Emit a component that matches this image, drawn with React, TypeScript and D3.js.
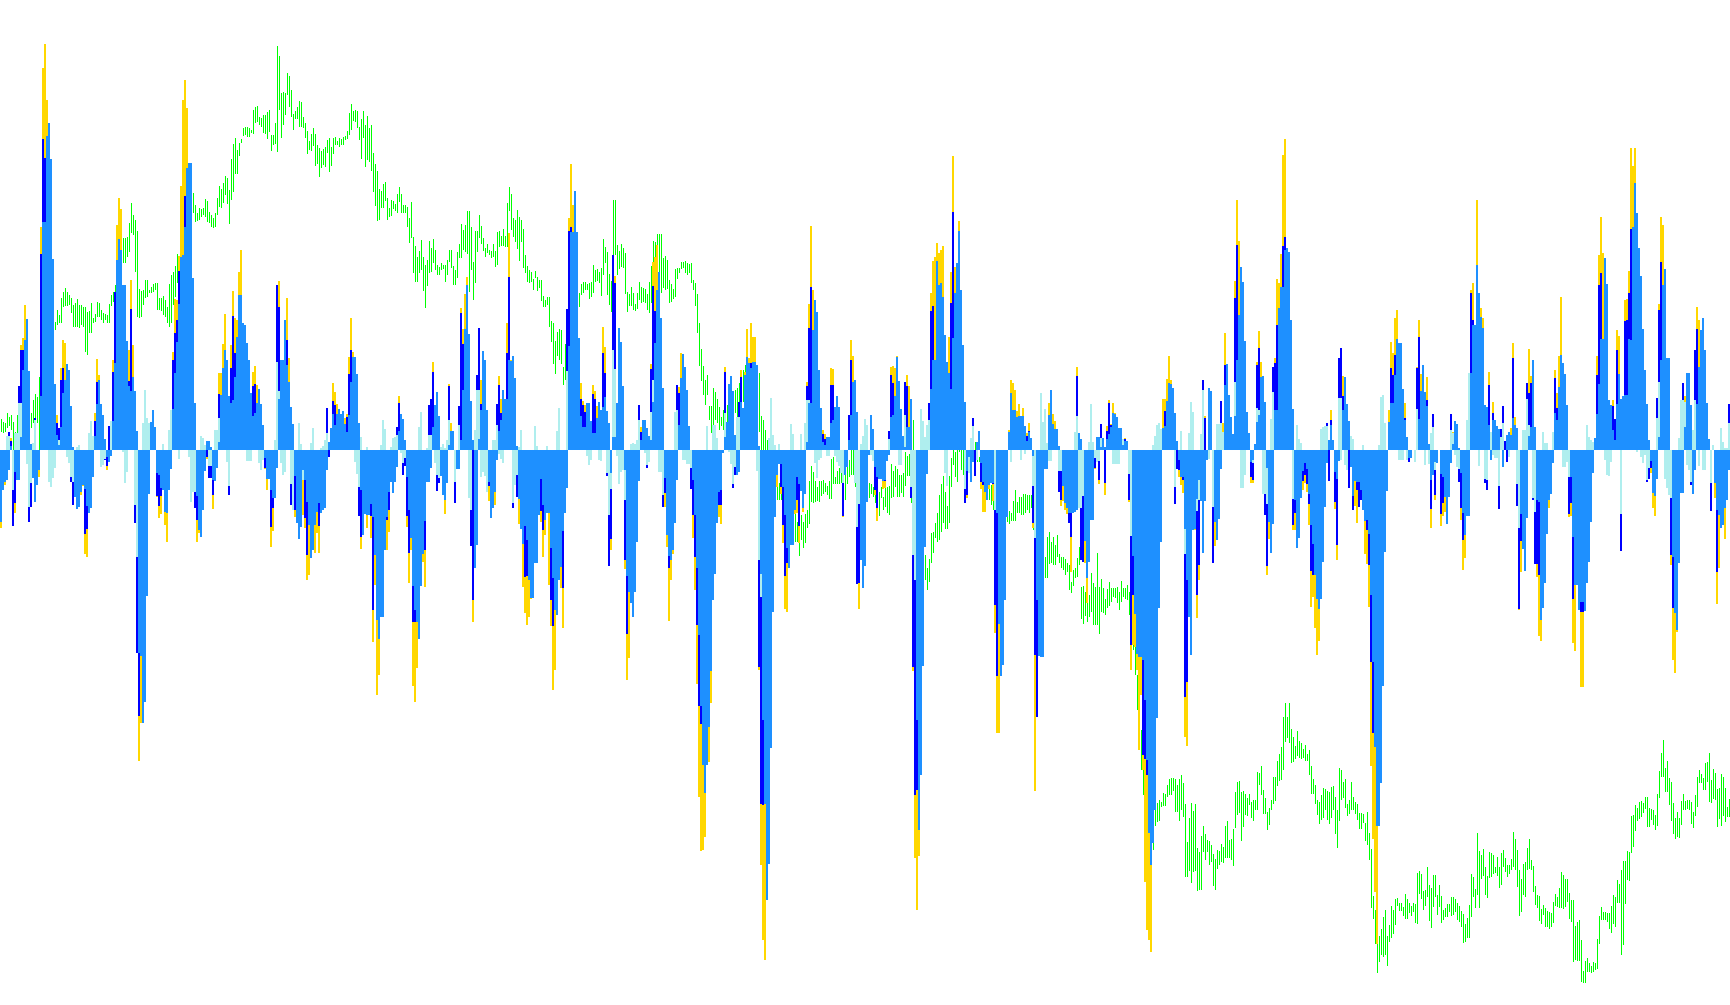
import React from "react";
import * as d3 from "d3";

const WIDTH = 1730;
const HEIGHT = 1005;
const COLUMN_COUNT = 865;

const dodgerValues = [
-72,-40,-32,-30,-20,4,0,-22,-30,-30,
13,80,110,131,79,6,-28,-52,-35,-20,
54,228,228,314,327,291,191,66,15,5,
23,57,70,86,80,44,3,-47,-59,-57,
-42,-35,-39,-56,-63,-58,-27,14,46,70,
46,35,11,-7,-12,-6,29,87,190,211,
200,165,165,109,64,59,73,59,19,-203,
-206,-273,-252,-146,-44,28,40,23,-23,-25,
-38,-40,-62,-63,-40,-19,41,77,108,146,
193,195,223,282,287,287,172,47,-46,-80,
-87,-60,-21,9,9,3,-30,-31,-18,8,
55,82,100,90,54,47,50,73,113,155,
155,127,125,107,90,57,34,37,47,61,
46,25,-8,-29,-29,-40,-48,-48,-18,51,
90,90,130,85,68,43,26,-26,-73,-89,
-77,-20,-30,-52,-75,-108,-100,-75,-62,-53,
-63,-60,-58,-20,8,22,36,25,36,41,
36,39,26,18,35,68,93,93,76,27,
-40,-85,-64,-65,-65,-54,-67,-105,-170,-189,
-167,-167,-100,-67,-42,-32,-43,-32,-17,19,
36,31,10,-27,-60,-88,-136,-160,-172,-189,
-136,-104,-71,-32,-32,-18,23,45,58,34,
-26,-45,-50,-33,5,19,19,0,-19,-19,
10,60,121,165,116,49,10,-118,-95,11,
40,99,90,40,-32,-68,-58,-42,-10,19,
30,60,51,51,90,89,94,72,4,-49,
-79,-94,-76,-90,-130,-148,-148,-113,-113,-65,
-29,-55,-70,-63,-63,-98,-128,-160,-165,-130,
-117,-81,-63,-38,104,218,218,259,218,112,
34,23,23,47,47,29,17,17,32,48,
40,43,53,39,27,-23,13,13,47,122,
108,64,-20,-126,-142,-153,-167,-142,-92,-31,
10,30,30,22,14,10,48,107,160,178,
132,62,-28,-85,-106,-110,-100,-73,-30,25,
72,96,83,60,24,0,-30,-65,-118,-185,
-256,-315,-343,-315,-277,-221,-150,-124,-73,-42,
-40,-3,13,28,66,74,59,15,-25,-22,
48,42,75,93,87,82,88,88,85,4,
-124,-270,-354,-450,-414,-298,-162,-67,-25,-14,
-14,-37,-65,-98,-118,-95,-95,-60,-27,-34,
-41,-58,-44,8,47,47,120,150,138,80,
42,8,5,13,13,27,30,43,54,43,
0,0,-25,-17,10,35,68,70,38,0,
-110,-138,-116,-52,-5,35,21,-17,-27,-29,
-29,-31,-30,-11,-5,33,35,54,93,69,
41,14,3,23,23,51,0,0,-270,-380,
-325,-216,-97,-24,0,61,90,90,189,165,
167,153,115,88,77,61,112,157,187,219,
160,105,48,-21,-7,-32,-12,0,8,19,
-13,-32,-42,-50,-35,-33,-33,0,-63,-174,
-226,-215,-150,-67,18,57,40,40,33,34,
34,34,24,9,18,12,-6,0,-150,-206,
-207,-207,-19,-19,35,60,26,21,21,4,
0,-36,-53,-58,-63,-63,-63,-62,-60,17,
11,0,-91,-128,-112,-70,-70,0,13,13,
3,12,3,11,16,23,37,36,33,22,
22,5,9,9,0,0,-106,-164,-204,-207,
-207,-210,-250,-310,-383,-415,-393,-360,-268,-158,
-92,22,24,49,67,66,62,37,9,-10,
-27,-27,-79,-130,-167,-205,-80,-79,-49,-30,
-51,-103,-51,-10,62,59,0,-72,-90,-69,
-19,0,65,86,55,33,16,34,90,135,
183,168,109,38,17,-12,-10,6,28,35,
73,74,48,-18,-72,-103,-74,40,40,142,
163,163,200,202,198,130,41,-50,-98,-88,
-48,-21,-13,-19,-44,-75,-94,-125,-149,-159,
-149,-112,-57,-13,10,25,10,-22,-29,-11,
0,40,73,46,29,-17,-46,-31,-32,-32,
-40,-60,-71,-70,-84,-145,-212,-297,-376,-376,
-333,-236,-102,-41,28,47,47,75,111,107,
107,61,30,13,-8,-8,0,0,0,31,
59,85,58,44,6,-30,-25,-12,-13,0,
-24,-27,-47,-74,-47,-13,6,29,26,2,
-23,-63,-85,-66,-66,77,125,125,185,157,
133,122,45,43,25,-10,30,30,24,21,
0,-17,0,15,18,15,32,25,22,0,
-64,-99,-121,-68,14,23,90,23,-50,-52,
-170,-158,-133,-84,-50,-44,-13,37,30,63,
95,87,76,45,0,-27,-87,-135,-135,-160,
-152,-152,-161,-133,-112,-72,-23,12,36,66,
111,111,192,166,50,45,20,10,46,76,
51,54,55,55,111,110,223,267,237,202,
174,121,80,46,10,-11,-43,-46,-29,13,
90,165,181,92,92,0,-107,-163,-180,-113,
-43,-43,23,77,77,45,-44,-20,46,83,
120,132,100,47,11,0,0,-33,-60,-65,
-78,-75,-58,-50,-20,
];

const turquoisePairs = [
[3,14],[4,14],[6,-40],[7,17],[8,17],[9,47],[10,47],[13,-14],[14,-57],[15,-33],[16,7],[17,30],[24,-32],[25,-37],[26,-28],[27,-18],[29,10],
[33,-7],[34,-13],[35,-27],[36,-32],[38,3],[39,5],[44,17],[45,29],[46,14],[50,-17],[51,-15],[52,-9],[55,29],[61,-2],[62,-33],[63,-22],[67,-55],[68,-107],
[71,27],[72,60],[73,32],[74,27],[81,6],[84,20],[85,40],[89,-9],[94,-7],[95,-52],[96,-42],[97,-42],[100,14],[101,12],[102,5],[104,-16],[105,-16],[107,20],[108,20],[109,32],
[113,-12],[114,-36],[123,-11],[124,-11],[125,-11],[129,-13],[130,-20],[131,-10],[137,10],[138,88],[139,59],[140,-13],[141,-25],[142,-22],[145,-34],[146,-60],[149,27],
[150,6],[151,-30],[155,7],[156,22],[160,2],[161,4],[162,10],[163,17],[177,-12],[178,-24],[179,-37],[180,13],[183,3],[190,5],[191,30],[192,21],[195,3],[196,12],[197,13],[198,15],
[200,-3],[201,-13],[202,-8],[209,23],[210,38],[213,2],[214,15],[215,15],[217,-13],[218,-25],[219,-28],[220,3],[221,6],[222,2],[223,10],[224,30],[227,-32],[229,25],
[234,-48],[235,-60],[237,20],[238,60],[239,60],[240,-27],[241,-22],[242,-26],[243,-42],[246,10],[247,10],[248,25],[249,-4],[250,-9],[251,-13],[256,-53],[257,-35],[258,-25],[259,3],[260,20],[267,24],[268,4],[273,4],[278,19],[279,42],[283,79],
[293,-6],[294,-15],[295,-10],[291,20],[299,-10],[300,-11],[303,-23],[304,-65],[305,-39],[306,100],[307,81],[308,-6],[309,-34],[310,-22],[311,-20],[312,-50],
[315,6],[316,7],[317,6],[318,10],[319,30],[322,-3],[323,-15],[324,-12],[325,38],[326,70],[329,-22],[330,-22],[331,-45],[337,38],[338,40],[339,25],[341,-10],[342,-10],[343,-14],[344,-14],[345,-18],
[353,24],[356,25],[357,25],[358,12],[362,37],[364,-2],[365,-14],[366,-34],[367,-17],[368,33],[369,33],[378,-21],[379,-110],[380,-147],[384,12],[385,52],[386,15],[387,5],[389,6],[395,26],[396,16],[400,16],[402,27],[403,50],[404,50],
[407,-13],[408,-28],[409,-10],[410,-8],[413,-6],[414,-6],[417,-6],[418,-12],[419,-16],[420,-23],[421,-33],[427,-33],[428,-77],[429,-54],[430,6],[431,14],[432,31],[433,25],[435,-5],[436,-11],
[444,11],[445,33],[449,-15],[450,-15],[451,14],[452,35],[455,-37],[456,-105],[457,-130],[460,41],[461,29],[462,13],[463,25],[464,30],[465,61],[472,-23],[473,-36],[482,-39],[484,-23],[485,12],[486,24],[488,-10],
[497,-60],[505,-12],[510,-10],[512,-4],[516,-36],[517,-88],[520,57],[521,28],[522,41],[523,7],[524,-11],[525,-11],[529,-21],[530,-21],[537,18],[538,34],[539,-58],[540,-58],[541,-46],[544,8],[545,46],[546,8],[547,-8],[548,-12],[549,-11],[550,12],[556,-14],[557,-14],[558,-14],[559,-14],[561,11],[564,-24],[565,-86],
[576,5],[577,14],[578,25],[579,27],[580,21],[581,21],[587,-37],[590,19],[592,-104],[594,17],[595,48],[596,38],[598,-61],[599,-50],[600,16],[601,60],[603,-10],[604,-9],[606,-57],[608,26],[609,26],[610,27],[611,18],[616,16],[617,68],
[620,-38],[621,-38],[622,-25],[626,-13],[628,42],[629,40],[631,-44],[632,-44],[633,-54],[635,31],[636,58],[646,-49],[648,25],[649,11],[650,7],[660,21],[661,23],[662,24],[663,24],[670,-10],[669,52],[670,52],[672,-15],[673,-20],[675,14],[676,11],[681,5],[689,5],[690,53],[691,55],[692,27],
[699,-10],[700,-10],[701,-10],[703,-10],[707,-12],[708,41],[712,-15],[714,-14],[715,17],[716,23],[717,-20],[718,-12],[725,20],[726,17],[727,-5],[728,-17],[729,-19],[733,30],[734,77],
[739,-16],[742,-29],[743,-30],[745,18],[746,-5],[747,-8],[748,-8],[749,-36],[750,13],[751,27],[754,-7],[758,-34],[759,-78],[761,20],[762,20],[763,51],[764,25],[766,-48],[767,-62],[771,18],[772,7],[773,7],[776,18],[781,-17],[782,-17],[783,-12],[784,-27],
[793,25],[794,13],[795,10],[796,8],[802,-10],[803,-25],[804,-26],[805,-12],[810,-64],[818,-2],[820,-7],[821,-13],[822,-5],[823,-30],[824,-18],[828,32],[829,68],[832,-29],[833,-38],[834,-45],[835,-48],[839,12],[840,50],[841,50],[842,48],[843,-15],[844,-20],[845,-32],[846,20],[847,50],[849,-16],[851,-20],[852,-20],[855,-33],[856,5],[860,22],[861,8],[862,2],[863,2],[864,27],
];

const bluePairs = [
[4,18],[5,9],[6,-76],[7,-53],[8,17],[9,64],[10,100],[11,100],[14,-72],[15,-57],[17,32],[20,196],[21,311],[22,292],[28,27],[29,22],[30,70],[31,82],[35,-32],[36,-55],[42,-84],[43,-79],[47,29],[48,68],[52,-10],[53,-16],[54,24],[56,78],[57,158],[64,69],[65,141],[67,-73],[68,-203],[69,-266],[78,-46],[79,-56],[80,-46],[86,90],[87,117],[88,130],[89,179],[92,254],[97,-58],[98,-70],[103,-7],[104,-28],[105,-28],[106,-45],[109,56],[114,-45],[115,82],[116,134],[117,97],[126,64],[127,66],[132,-18],[135,-77],[136,-58],[138,165],[139,143],[143,110],[145,-55],[147,-60],
[152,-68],[153,-105],[159,-76],[163,42],[164,-7],[166,49],[167,45],[173,33],[174,76],[175,100],[179,-66],[180,-87],[185,-66],[186,-160],[193,-70],[194,-60],[198,23],[199,47],[201,-25],[202,-16],[203,-66],[204,-103],[206,-172],[207,-172],[212,-100],[214,45],[215,51],[216,78],[218,-41],[219,-33],[224,64],[227,-53],[229,44],[230,137],[231,106],[235,-96],[236,-150],[238,75],[239,122],[240,46],[244,-36],[248,46],[249,65],[250,37],[253,97],[254,173],[256,-58],[258,-47],[262,-127],[263,-126],[270,-61],[271,-80],[275,-150],[276,-176],[281,-138],[283,141],[284,219],[285,223],
[290,51],[291,45],[292,38],[296,56],[297,51],[301,97],[302,77],[303,-26],[304,-116],[305,-89],[306,195],[307,167],[312,-110],[313,-184],[319,45],[320,18],[323,-18],[325,81],[326,164],[327,139],[331,-57],[332,-43],[334,-118],[338,65],[339,57],[345,-39],[346,-65],[347,-107],[348,-175],[349,-256],[350,-274],[359,-55],[360,-55],[362,78],[366,-38],[367,-25],[369,48],[370,73],[374,87],[375,87],[379,-217],[380,-354],[381,-355],[390,-37],[391,-75],[392,-126],[393,-113],[398,-50],[399,-76],[403,64],[404,122],[405,163],[411,16],[412,11],[415,65],[416,65],[421,-66],[424,35],[425,90],[428,-134],[429,-133],
[437,-40],[438,-58],[442,-31],[444,19],[445,75],[446,67],[452,68],[453,64],[455,-48],[456,-217],[457,-345],[458,-340],[464,47],[465,139],[466,144],[474,77],[475,147],[476,238],[482,-53],[483,-45],[486,32],[487,-26],[490,-32],[491,-35],[496,-34],[497,-155],[498,-226],[513,14],[514,19],[516,-73],[517,-205],[518,-267],[526,25],[527,20],[529,-42],[530,-50],[534,-73],[535,-87],[538,74],[540,-110],[541,-112],[547,-18],[549,-30],[550,26],[552,-33],[553,19],[554,47],[555,25],[560,22],[561,10],[562,11],[564,-50],[565,-195],[566,-145],[571,-305],[572,-309],[573,-325],
[582,39],[587,-54],[588,-19],[589,-20],[591,-30],[592,-247],[593,-232],[598,-145],[599,-115],[601,70],[602,32],[606,-113],[610,49],[612,85],[617,152],[618,205],[624,12],[625,-27],[626,-30],[628,85],[629,102],[632,-65],[633,-116],[636,83],[637,87],[638,125],[641,204],[642,213],[646,-75],[647,-63],[651,-31],[652,-25],[653,-34],[654,-54],[655,-121],[656,-125],[663,27],[664,-31],[665,30],[667,-52],[668,-95],[669,92],[670,102],[671,54],[674,-38],[676,-60],[678,-40],[679,-57],[680,-50],[683,-80],[684,-115],[685,-212],[686,-283],[695,82],[696,75],[697,95],[702,32],[704,-12],[708,82],[709,113],[713,50],
[715,-59],[716,36],[717,-45],[720,-64],[721,-53],[725,36],[726,17],[729,-32],[730,-58],[731,-90],[735,157],[736,130],[742,-33],[743,-40],[744,65],[746,37],[749,-59],[750,21],[751,44],[752,9],[753,-12],[756,92],[758,-56],[759,-159],[760,-91],[763,67],[764,57],[765,67],[766,-50],[767,-114],[768,-114],[769,-125],[777,72],[778,42],[784,-64],[785,-53],[786,-149],[790,-162],[791,-162],[798,75],[799,165],[800,177],[806,44],[807,31],[808,100],[810,-101],[812,129],[813,130],[814,157],[815,221],[823,-32],[824,-29],[825,-18],[828,52],[829,140],[830,188],[835,-105],[836,-158],[841,67],[842,43],[845,-35],[847,100],[848,121],[855,-61],[858,-122],[864,46],
];

const yellowPairs = [
[0,-78],[2,-35],[5,12],[7,-63],[10,105],[11,112],[12,145],[19,-27],[20,223],[21,382],[22,406],[23,350],[28,35],[30,82],[31,110],[32,107],[37,-47],[40,-45],[41,-36],[42,-104],[43,-107],[47,37],[48,91],[49,75],[53,-20],[56,90],[57,158],[58,225],[59,252],[60,241],[64,100],[65,170],[66,105],[69,-311],[70,-273],[78,-47],[79,-68],[80,-64],[82,-75],[83,-92],[86,98],[87,151],[88,150],[89,194],[90,264],[91,350],[92,370],[93,342],[98,-92],[99,-83],[103,-9],[106,-59],[109,77],[110,77],[111,106],[112,136],[115,105],[116,159],[117,132],[118,130],[119,178],[120,200],[126,78],[127,84],[128,65],[132,-19],[133,-40],[135,-97],[136,-81],[139,169],[143,152],[144,92],[147,-67],
[151,-65],[152,-78],[153,-130],[154,-125],[157,-103],[158,-83],[159,-103],[166,67],[167,58],[168,46],[172,32],[173,36],[174,93],[175,132],[176,98],[180,-99],[183,-78],[185,-88],[186,-192],[187,-135],[188,-245],[189,-225],[193,-100],[194,-82],[199,54],[203,-77],[204,-133],[205,-100],[206,-236],[207,-252],[208,-218],[211,-112],[212,-137],[216,88],[222,-64],[224,66],[225,27],[230,142],[231,121],[232,156],[233,173],[236,-172],[240,70],[244,-51],[247,-55],[249,74],[250,51],[253,127],[254,217],[255,90],[259,-74],[261,-137],[262,-163],[263,-175],[264,-167],[265,-149],[270,-72],[271,-107],[272,-85],[274,-135],[275,-176],[276,-240],[277,-220],[280,-138],[281,-178],[284,232],[285,286],[286,245],
[290,67],[291,49],[292,45],[296,65],[297,59],[298,44],[301,123],[302,103],[305,-100],[307,174],[312,-119],[313,-230],[314,-208],[320,23],[321,29],[325,86],[326,188],[327,193],[328,205],[332,-57],[333,-97],[334,-171],[335,-130],[336,-104],[339,63],[340,97],[346,-88],[347,-140],[348,-234],[349,-347],[350,-401],[351,-400],[352,-387],[354,-312],[355,-253],[359,-67],[360,-74],[362,83],[370,80],[372,78],[373,121],[374,92],[375,127],[376,113],[377,113],[379,-220],[380,-415],[381,-490],[382,-510],[388,-37],[390,-44],[391,-93],[392,-159],[393,-162],[397,-64],[398,-63],[399,-93],[401,-62],[403,68],[404,146],[405,224],[406,160],[411,20],[412,16],[415,82],[416,81],[421,-67],[425,110],[426,94],[429,-159],
[437,-45],[438,-71],[441,-39],[442,-38],[445,83],[446,84],[447,82],[448,94],[453,75],[454,64],[456,-221],[457,-408],[458,-460],[459,-406],[465,157],[466,189],[467,193],[468,207],[469,197],[470,200],[471,204],[474,113],[475,178],[476,294],[477,183],[479,229],[483,-48],[490,-39],[491,-62],[492,-62],[494,-39],[496,-51],[497,-183],[498,-283],[499,-283],[504,20],[505,70],[506,67],[507,60],[508,39],[509,46],[511,42],[513,17],[514,27],[516,-78],[517,-341],[524,47],[526,36],[527,29],[530,-56],[531,-51],[532,-60],[533,-64],[535,-122],[538,83],[542,-113],[543,-153],[547,-19],[549,-34],[550,26],[552,-45],[553,24],[554,50],[555,26],[556,47],[557,37],[562,12],[564,-52],[565,-220],[566,-195],[567,-197],[568,-220],[569,-300],[570,-245],[571,-320],[572,-432],[573,-480],[574,-490],[575,-502],
[581,51],[582,51],[583,71],[584,94],[585,70],[589,-27],[590,-35],[591,-43],[592,-287],[593,-296],[597,-80],[598,-168],[599,-130],[602,34],[607,-96],[611,27],[612,117],[617,169],[618,250],[619,209],[625,-33],[626,-33],[628,88],[629,119],[630,88],[633,-125],[634,-89],[637,92],[638,171],[639,167],[640,196],[641,295],[642,311],[646,-80],[647,-80],[651,-40],[652,-33],[653,-42],[654,-75],[655,-157],[656,-147],[657,-178],[658,-205],[659,-191],[665,40],[667,-59],[668,-110],[671,74],[677,-56],[678,-73],[682,-104],[683,-114],[684,-157],[685,-316],[686,-389],[687,-442],[688,-494],[694,40],[695,108],[696,97],[697,132],[698,140],[702,47],[708,83],[709,130],[710,76],[713,73],
[715,-78],[717,-50],[720,-76],[721,-66],[722,-62],[726,18],[730,-70],[731,-120],[732,-108],[735,160],[736,167],[738,250],[740,142],[741,132],[744,78],[746,48],[755,22],[756,107],[757,33],[759,-160],[760,-122],[764,101],[765,74],[768,-127],[769,-186],[770,-191],[774,-58],[777,80],[778,57],[779,94],[780,153],[784,-67],[785,-66],[786,-193],[787,-201],[790,-237],[791,-237],[798,94],[799,195],[800,233],[801,197],[806,50],[808,120],[809,114],[812,150],[813,151],[814,179],[815,302],[816,284],[817,302],[825,-23],[826,-58],[827,-66],[829,146],[830,233],[831,225],[835,-115],[836,-210],[837,-223],[838,-182],[842,54],[848,143],[849,130],[857,-48],[858,-154],[859,-118],[862,-89],
];

const greenHighLow = [
31,18,28,17,27,18,37,22,33,24,35,20,28,0,18,0,35,3,30,5,
35,10,40,15,42,18,40,20,38,20,37,22,50,27,56,27,53,27,73,0,
80,20,95,50,110,70,120,90,125,100,125,105,128,112,128,120,140,125,135,127,
152,127,158,143,162,144,158,144,155,145,152,137,145,123,147,123,151,123,145,122,
145,125,143,123,143,98,138,95,139,117,147,117,132,127,136,128,148,133,147,133,
140,130,137,127,136,130,135,127,146,127,155,144,158,148,165,150,170,150,185,165,
200,180,212,187,212,187,213,193,227,198,247,217,235,215,230,178,219,133,161,132,
159,133,160,145,170,152,170,153,160,157,163,157,166,158,167,160,167,140,152,140,
152,139,154,135,150,133,143,127,166,123,175,127,178,145,184,153,196,167,194,180,
205,190,225,200,240,215,255,230,265,240,263,247,257,237,245,228,237,229,242,230,
241,233,242,235,251,233,249,228,238,227,235,223,232,222,237,223,252,235,264,243,
261,242,267,247,274,255,272,246,260,226,291,250,306,258,312,276,300,276,307,294,
311,307,322,314,323,315,323,313,322,313,320,317,340,316,343,327,344,328,333,325,
332,323,335,317,335,316,338,311,340,318,315,299,315,305,327,306,404,298,394,340,
357,312,358,325,357,335,377,355,374,343,360,333,336,320,339,331,343,331,349,323,
348,323,333,322,327,312,319,296,309,300,316,299,322,304,316,284,305,286,302,273,
299,282,301,285,303,283,310,297,312,278,303,284,312,296,313,305,309,305,312,303,
311,305,313,305,314,310,319,311,337,315,346,320,339,329,340,328,339,322,323,310,
331,291,339,312,325,283,334,290,322,288,325,279,297,258,286,244,279,229,261,230,
259,242,266,242,268,249,252,230,242,233,250,234,249,241,246,239,256,237,263,248,
256,237,245,237,245,237,243,223,232,207,248,212,213,177,204,168,193,168,199,177,
210,180,193,159,185,142,190,164,209,177,202,178,211,187,200,180,185,175,183,175,
187,180,185,181,185,168,190,175,200,188,200,182,184,165,180,165,198,172,206,192,
226,192,220,200,225,198,239,196,239,158,223,180,188,150,219,167,219,198,235,212,
224,206,212,199,202,193,206,197,200,195,199,192,206,193,199,183,218,185,219,203,
214,204,221,204,214,203,247,203,263,239,256,220,232,213,230,208,240,201,233,189,
230,208,221,182,195,177,184,168,180,167,178,168,171,160,179,172,173,159,170,162,
170,149,154,143,150,143,153,145,153,123,129,108,127,86,109,76,118,94,121,90,
120,86,83,65,106,70,105,70,130,100,140,110,148,125,150,130,155,138,157,143,
166,155,168,157,168,160,166,160,167,151,168,153,185,157,180,168,181,169,178,167,
182,154,211,175,203,187,198,155,176,145,169,138,250,170,250,195,205,175,199,181,
206,183,202,182,197,156,158,138,156,144,163,144,157,140,146,139,157,141,168,150,
163,147,162,148,161,147,156,140,168,137,184,147,209,165,208,170,216,170,216,164,
216,157,192,162,194,160,190,161,170,147,166,148,161,151,181,153,182,171,182,177,
188,181,188,182,189,177,187,175,186,177,187,167,170,160,167,144,156,117,127,84,
101,69,84,55,70,45,75,55,44,30,44,17,62,25,58,30,51,27,43,20,
33,24,40,20,42,22,45,25,48,28,50,30,55,33,60,37,62,30,67,40,
75,40,80,48,85,52,85,55,88,58,90,60,92,62,90,55,85,40,77,18,
34,0,30,-5,20,-10,10,-15,5,-20,0,-25,-5,-28,-15,-40,-25,-50,-33,-50,
-33,-50,-35,-60,-40,-65,-45,-70,-50,-75,-55,-80,-60,-88,-64,-92,-72,-92,-73,-106,
-65,-90,-72,-98,-64,-93,-60,-78,-31,-74,-16,-52,-22,-53,-31,-52,-37,-51,-31,-52,
-31,-46,-30,-44,-33,-42,-36,-45,-31,-49,-9,-49,-7,-34,-27,-34,-21,-34,-18,-34,
-14,-33,0,-50,-17,-50,-17,-34,-10,-27,0,-25,0,-25,0,-37,-5,-25,-10,-25,
-15,-30,-20,-35,-25,-40,-28,-42,-33,-48,-34,-44,-37,-47,-45,-53,-40,-60,-42,-66,
-37,-48,-47,-60,-38,-57,-37,-63,-36,-65,-14,-48,-21,-47,-16,-37,-19,-47,-25,-47,
-25,-43,-23,-47,-2,-36,-6,-26,-4,-26,-37,-53,30,0,0,-40,-30,-60,-60,-90,
-80,-110,-95,-120,-105,-130,-118,-140,-109,-132,-83,-113,-82,-103,-73,-88,-63,-92,-45,-90,
-34,-82,-26,-73,-42,-79,-56,-79,-26,-73,-8,-37,0,-15,-2,-27,0,-32,0,-2,
0,-20,2,-25,0,-20,-5,-25,-3,-20,0,-15,5,-10,8,-12,3,-12,-7,-12,
-12,-30,-20,-40,-25,-45,-30,-50,-30,-50,-35,-55,-35,-60,-40,-65,-45,-70,-45,-75,
-50,-75,-50,-75,-55,-78,-57,-72,-61,-74,-63,-71,-51,-71,-40,-71,-52,-63,-47,-63,
-47,-65,-44,-65,-44,-63,-45,-60,-45,-63,-45,-58,-75,-80,-80,-100,-85,-110,-88,-115,
-90,-118,-100,-125,-107,-128,-87,-128,-82,-114,-92,-113,-87,-115,-95,-115,-85,-107,-104,-113,
-107,-118,-107,-120,-109,-125,-113,-122,-115,-140,-132,-143,-120,-136,-118,-128,-108,-127,-97,-115,
-137,-169,-136,-174,-142,-166,-132,-172,-145,-167,-123,-162,-133,-175,-137,-175,-103,-175,-137,-184,
-129,-162,-138,-163,-149,-165,-139,-158,-132,-156,-138,-152,-138,-147,-138,-148,-137,-153,-142,-160,
-131,-152,-138,-147,-138,-149,-135,-150,-142,-165,-150,-175,-180,-200,-195,-225,-225,-260,-250,-290,
-280,-320,-310,-345,-340,-390,-370,-410,-385,-420,-385,-415,-370,-400,-357,-376,-353,-372,-350,-371,
-352,-357,-343,-356,-344,-356,-335,-347,-329,-345,-328,-345,-328,-341,-329,-362,-335,-362,-329,-371,
-325,-360,-333,-367,-354,-427,-392,-427,-368,-421,-353,-433,-361,-422,-354,-421,-398,-441,-402,-440,
-386,-440,-376,-402,-384,-410,-390,-402,-391,-415,-395,-412,-404,-436,-409,-440,-400,-419,-401,-415,
-394,-412,-397,-413,-376,-408,-371,-408,-390,-408,-389,-410,-379,-416,-342,-378,-332,-365,-331,-363,
-342,-391,-341,-377,-344,-365,-348,-366,-344,-355,-352,-368,-350,-371,-350,-360,-322,-360,-323,-335,
-316,-345,-340,-364,-348,-364,-362,-380,-358,-375,-350,-360,-327,-354,-327,-351,-311,-336,-304,-331,
-297,-330,-267,-320,-253,-292,-267,-288,-253,-293,-279,-313,-287,-312,-296,-309,-281,-306,-291,-308,
-293,-309,-299,-308,-295,-311,-304,-311,-300,-325,-316,-344,-329,-344,-335,-354,-350,-365,-352,-374,
-345,-370,-338,-368,-339,-360,-341,-370,-342,-374,-337,-368,-336,-360,-347,-384,-360,-398,-318,-371,
-320,-350,-332,-348,-329,-358,-354,-366,-350,-364,-332,-360,-347,-360,-352,-364,-354,-370,-363,-379,
-363,-379,-364,-373,-373,-391,-362,-395,-383,-410,-399,-458,-446,-469,-460,-494,-494,-523,-486,-512,
-479,-505,-467,-507,-460,-505,-486,-516,-475,-492,-456,-488,-460,-484,-449,-475,-448,-456,-453,-461,
-453,-461,-457,-466,-444,-469,-449,-469,-453,-463,-456,-466,-453,-462,-454,-473,-423,-474,-421,-444,
-424,-449,-441,-460,-440,-456,-417,-447,-435,-471,-438,-478,-425,-457,-425,-447,-445,-465,-435,-457,
-446,-473,-460,-470,-458,-467,-454,-467,-454,-462,-447,-466,-447,-465,-449,-462,-453,-470,-456,-472,
-461,-477,-464,-493,-474,-492,-468,-488,-455,-488,-424,-467,-427,-447,-439,-458,-383,-445,-401,-458,
-405,-429,-399,-426,-417,-445,-426,-448,-402,-428,-403,-427,-405,-424,-417,-423,-407,-426,-417,-438,
-403,-435,-400,-417,-408,-422,-415,-427,-415,-424,-409,-420,-382,-417,-389,-420,-400,-437,-420,-466,
-429,-462,-414,-445,-412,-447,-398,-420,-389,-419,-410,-420,-416,-442,-436,-455,-445,-458,-446,-471,
-459,-474,-455,-465,-458,-477,-461,-477,-462,-479,-463,-477,-452,-473,-444,-456,-447,-457,-438,-458,
-422,-458,-425,-459,-429,-457,-429,-452,-443,-469,-450,-472,-450,-512,-476,-510,-472,-511,-470,-511,
-490,-532,-521,-533,-511,-533,-508,-522,-513,-522,-516,-523,-512,-522,-513,-520,-489,-519,-466,-494,
-457,-470,-462,-470,-462,-470,-463,-472,-463,-479,-456,-483,-445,-474,-447,-477,-430,-453,-434,-453,
-420,-505,-411,-495,-411,-454,-401,-430,-402,-431,-366,-403,-365,-397,-355,-381,-358,-371,-352,-369,
-351,-367,-353,-363,-347,-359,-347,-377,-358,-377,-359,-370,-360,-375,-365,-380,-344,-376,-321,-348,
-303,-327,-290,-327,-318,-342,-311,-342,-328,-355,-332,-371,-353,-384,-368,-389,-362,-387,-368,-388,
-351,-375,-344,-360,-351,-360,-350,-359,-350,-360,-352,-374,-362,-378,-345,-366,-327,-357,-320,-333,
-324,-333,-328,-340,-313,-340,-312,-332,-303,-352,-330,-353,-319,-349,-323,-350,-339,-377,-338,-369,
-324,-376,-327,-366,-338,-372,-357,-367,-349,-367,
];

const COLORS = { turquoise: "#AFEEEE", yellow: "#FFD700", blue: "#0000FF", dodger: "#1E90FF", green: "#00FF00" };

const xScale = d3.scaleLinear().domain([0, COLUMN_COUNT]).range([0, WIDTH]);
const yScale = d3.scaleLinear().domain([-555, 450]).range([HEIGHT, 0]);

function barRect(col: number, value: number, fill: string, key: string) {
  const y0 = yScale(0);
  const y1 = yScale(value);
  return (
    <rect
      key={key}
      x={xScale(col)}
      width={xScale(1) - xScale(0)}
      y={Math.min(y0, y1)}
      height={Math.abs(y1 - y0)}
      fill={fill}
    />
  );
}

export default function App() {
  const greenBars = [];
  const cols = Math.floor(greenHighLow.length / 2);
  for (let c = 0; c < cols; c++) {
    const hi = yScale(greenHighLow[2 * c]);
    const lo = yScale(greenHighLow[2 * c + 1]);
    greenBars.push(
      <rect key={"g" + c} x={xScale(c) + 1} width={1} y={hi} height={Math.max(1, lo - hi)} fill={COLORS.green} />
    );
  }
  return (
    <svg
      width={WIDTH}
      height={HEIGHT}
      shapeRendering="crispEdges"
      style={{ position: "absolute", left: 0, top: 0, background: "#fff" }}
    >
      <g>{greenBars}</g>
      <g>{yellowPairs.map(([c, v]) => barRect(c, v, COLORS.yellow, "y" + c))}</g>
      <g>{bluePairs.map(([c, v]) => barRect(c, v, COLORS.blue, "b" + c))}</g>
      <g>{turquoisePairs.map(([c, v], i) => barRect(c, v, COLORS.turquoise, "t" + i))}</g>
      <g>{dodgerValues.map((v, c) => barRect(c, v, COLORS.dodger, "d" + c))}</g>
    </svg>
  );
}
